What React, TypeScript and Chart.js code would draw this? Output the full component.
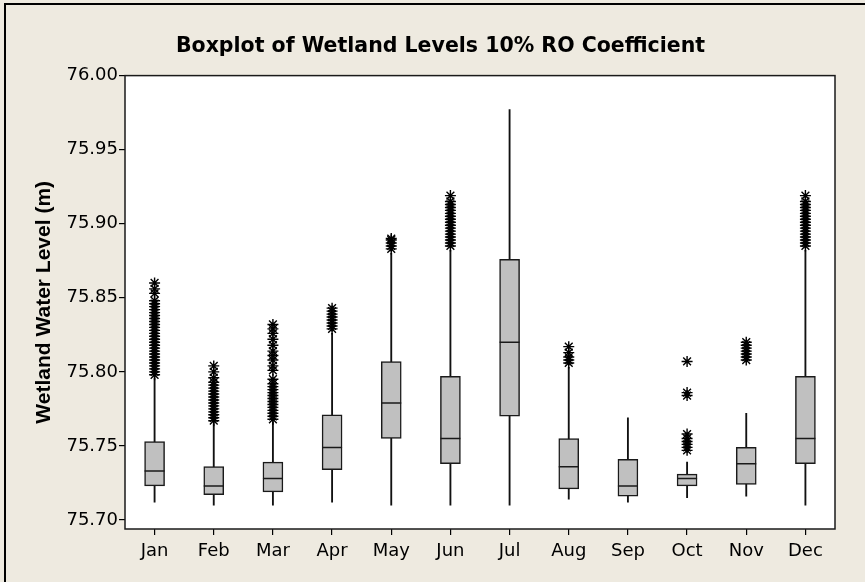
import React, { useEffect, useRef } from 'react';
import { Chart, registerables } from 'chart.js';

Chart.register(...registerables);

const months = ['Jan', 'Feb', 'Mar', 'Apr', 'May', 'Jun', 'Jul', 'Aug', 'Sep', 'Oct', 'Nov', 'Dec'];
const whiskerLow = [75.712, 75.710, 75.710, 75.712, 75.710, 75.710, 75.710, 75.714, 75.712, 75.715, 75.716, 75.710];
const q1 = [75.723, 75.717, 75.719, 75.734, 75.755, 75.738, 75.770, 75.721, 75.716, 75.723, 75.724, 75.738];
const medians = [75.733, 75.723, 75.728, 75.749, 75.779, 75.755, 75.820, 75.736, 75.723, 75.728, 75.738, 75.755];
const q3 = [75.753, 75.736, 75.739, 75.771, 75.807, 75.797, 75.876, 75.755, 75.741, 75.731, 75.749, 75.797];
const whiskerHigh = [75.796, 75.765, 75.766, 75.826, 75.880, 75.882, 75.977, 75.803, 75.769, 75.739, 75.772, 75.882];

const outJan = [75.798, 75.800, 75.802, 75.804, 75.806, 75.808, 75.810, 75.812, 75.814, 75.816, 75.818, 75.820, 75.822, 75.824, 75.826, 75.828, 75.830, 75.832, 75.834, 75.836, 75.838, 75.840, 75.842, 75.844, 75.846, 75.848, 75.853, 75.856, 75.860];
const outFeb = [75.767, 75.769, 75.771, 75.773, 75.775, 75.777, 75.779, 75.781, 75.783, 75.785, 75.787, 75.789, 75.791, 75.793, 75.796, 75.800, 75.804];
const outMar = [75.768, 75.770, 75.772, 75.774, 75.776, 75.778, 75.780, 75.782, 75.784, 75.786, 75.788, 75.790, 75.792, 75.795, 75.801, 75.804, 75.808, 75.811, 75.814, 75.818, 75.822, 75.826, 75.829, 75.832];
const outApr = [75.829, 75.831, 75.833, 75.835, 75.837, 75.839, 75.841, 75.843];
const outMay = [75.883, 75.885, 75.887, 75.889, 75.890];
const outJun = [75.885, 75.887, 75.889, 75.891, 75.893, 75.895, 75.897, 75.899, 75.901, 75.903, 75.905, 75.907, 75.909, 75.911, 75.913, 75.915, 75.919];
const outJul: number[] = [];
const outAug = [75.806, 75.808, 75.810, 75.813, 75.817];
const outSep: number[] = [];
const outOct = [75.747, 75.749, 75.751, 75.753, 75.755, 75.758, 75.784, 75.786, 75.807];
const outNov = [75.808, 75.810, 75.812, 75.814, 75.816, 75.818, 75.820];
const outDec = [75.885, 75.887, 75.889, 75.891, 75.893, 75.895, 75.897, 75.899, 75.901, 75.903, 75.905, 75.907, 75.909, 75.911, 75.913, 75.915, 75.919];
const outliers = [outJan, outFeb, outMar, outApr, outMay, outJun, outJul, outAug, outSep, outOct, outNov, outDec];

const yTicks = [75.70, 75.75, 75.80, 75.85, 75.90, 75.95, 76.00];
const yMin = 75.6939;
const yMax = 76.0;

const titleText = 'Boxplot of Wetland Levels 10% RO Coefficient';
const yTitleText = 'Wetland Water Level (m)';

const framePlugin = {
  id: 'plotFrame',
  beforeDraw(chart: any) {
    const { ctx, chartArea: a } = chart;
    ctx.save();
    ctx.fillStyle = '#ffffff';
    ctx.fillRect(a.left, a.top, a.right - a.left, a.bottom - a.top);
    ctx.restore();
  },
  afterDraw(chart: any) {
    const { ctx, chartArea: a } = chart;
    ctx.save();
    ctx.strokeStyle = '#1a1a1a';
    ctx.lineWidth = 1.5;
    ctx.strokeRect(a.left, a.top, a.right - a.left, a.bottom - a.top);
    ctx.restore();
  },
};

export default function App() {
  const ref = useRef<HTMLCanvasElement>(null);

  useEffect(() => {
    if (!ref.current) return;
    const outlierPoints: { x: string; y: number }[] = [];
    outliers.forEach((arr, i) => arr.forEach((v) => outlierPoints.push({ x: months[i], y: v })));

    const chart = new Chart(ref.current, {
      type: 'bar',
      data: {
        labels: months,
        datasets: [
          {
            type: 'bar',
            label: 'whiskers',
            data: months.map((_, i) => [whiskerLow[i], whiskerHigh[i]]),
            backgroundColor: '#111111',
            borderWidth: 0,
            barThickness: 1.2,
            grouped: false,
            order: 4,
          } as any,
          {
            type: 'bar',
            label: 'boxes',
            data: months.map((_, i) => [q1[i], q3[i]]),
            backgroundColor: '#c0c0c0',
            borderColor: '#1a1a1a',
            borderWidth: 1.5,
            borderSkipped: false,
            barThickness: 20,
            grouped: false,
            order: 3,
          } as any,
          {
            type: 'line',
            label: 'medians',
            data: medians,
            showLine: false,
            pointStyle: 'line',
            pointRadius: 10,
            pointBorderWidth: 1.5,
            pointBorderColor: '#1a1a1a',
            borderColor: '#1a1a1a',
            order: 2,
          } as any,
          {
            type: 'line',
            label: 'outliers',
            data: outlierPoints,
            showLine: false,
            pointStyle: 'star',
            pointRadius: 5.5,
            pointBorderWidth: 1.4,
            pointBorderColor: '#000000',
            borderColor: '#000000',
            order: 1,
          } as any,
        ],
      },
      options: {
        responsive: false,
        maintainAspectRatio: false,
        animation: false,
        layout: { padding: { top: 0, left: 0, right: 0, bottom: 0 } },
        plugins: {
          legend: { display: false },
          tooltip: { enabled: false },
          title: {
            display: true,
            text: titleText,
            color: '#000000',
            font: { family: 'DejaVu Sans', size: 20.5, weight: 'bold' },
            padding: { top: 34, bottom: 17 },
          },
        },
        scales: {
          x: {
            type: 'category',
            offset: true,
            border: { display: false },
            grid: {
              display: true,
              offset: false,
              drawOnChartArea: false,
              drawTicks: true,
              tickLength: 6,
              color: '#000000',
              lineWidth: 1.2,
            },
            ticks: {
              color: '#000000',
              padding: 6,
              font: { family: 'DejaVu Sans', size: 18 },
              maxRotation: 0,
              autoSkip: false,
            },
            afterFit: (scale: any) => {
              scale.height = 53;
            },
          },
          y: {
            type: 'linear',
            min: yMin,
            max: yMax,
            border: { display: false },
            grid: {
              display: true,
              drawOnChartArea: false,
              drawTicks: true,
              tickLength: 6,
              color: '#000000',
              lineWidth: 1.2,
            },
            ticks: {
              color: '#000000',
              padding: 1,
              font: { family: 'DejaVu Sans', size: 18 },
              callback: (v: any) => Number(v).toFixed(2),
            },
            afterBuildTicks: (scale: any) => {
              scale.ticks = yTicks.map((value) => ({ value }));
            },
            title: {
              display: true,
              text: yTitleText,
              color: '#000000',
              font: { family: 'Liberation Sans', size: 21, weight: 'bold' },
              padding: { top: 16, bottom: 0 },
            },
            afterFit: (scale: any) => {
              scale.width = 109;
            },
          },
          yRight: {
            type: 'linear',
            position: 'right',
            display: true,
            border: { display: false },
            grid: { display: false, drawTicks: false },
            ticks: { display: false },
            afterFit: (scale: any) => {
              scale.width = 30;
            },
          },
        },
      },
      plugins: [framePlugin],
    });
    return () => chart.destroy();
  }, []);

  return (
    <div
      style={{
        position: 'fixed',
        left: 0,
        top: 0,
        width: 865,
        height: 582,
        background: '#eeeae0',
        overflow: 'hidden',
      }}
    >
      <div
        style={{
          position: 'absolute',
          left: 4,
          top: 3,
          right: 0,
          bottom: 0,
          borderTop: '2px solid #000',
          borderLeft: '2px solid #000',
        }}
      />
      <canvas
        ref={ref}
        width={849}
        height={582}
        style={{ position: 'absolute', left: 16, top: 0, width: 849, height: 582 }}
      />
    </div>
  );
}
